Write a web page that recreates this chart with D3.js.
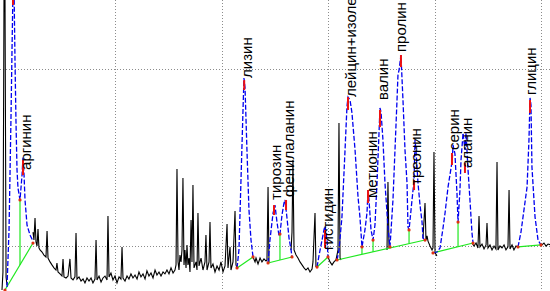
<!DOCTYPE html>
<html><head><meta charset="utf-8">
<script src="https://cdn.jsdelivr.net/npm/d3@7"></script>
<style>html,body{margin:0;padding:0;background:#fff;overflow:hidden} svg{display:block}</style>
</head><body>
<svg id="c" width="550" height="291"></svg>
<script>
// ---------- data (time in min, signal in mV) ----------
const gridTimes = [10, 20, 30, 40, 50];
const gridLevels = [0, 100];

// raw detector signal (black), pieces outside the integrated peaks
const signalInjection = [[-0.61,-25.2],[-0.52,-15.0],[-0.42,144.8],[-0.33,144.8],[-0.23,-17.8],[-0.14,-22.4]];
const signalEarly = [[2.30,7.6],[2.39,3.1],[2.49,15.6],[2.58,2.0],[2.68,-0.3],[2.77,9.3],[2.86,-1.4],[2.96,-2.5],[3.15,-3.7],[3.33,-5.4],[3.52,-6.5],[3.62,8.2],[3.71,-7.1],[3.90,-9.3],[4.08,-11.0],[4.27,-12.7],[4.46,-13.9],[4.55,-9.9],[4.65,-15.0],[4.84,-16.1],[5.02,-17.3],[5.12,-7.6],[5.21,-17.8],[5.40,-18.4],[5.59,-17.3],[5.77,-7.6],[5.87,-18.4],[6.06,-19.5],[6.24,-17.8],[6.34,7.1],[6.43,-19.0],[6.62,-17.8],[6.81,-20.1],[7.00,-19.0],[7.18,-21.2],[7.37,-18.4],[7.56,-20.1],[7.75,-18.4],[7.93,-21.2],[8.12,-19.0],[8.22,3.1],[8.31,-19.5],[8.50,-17.3],[8.69,-20.7],[8.87,-18.4],[9.06,-17.3],[9.25,-19.5],[9.34,16.7],[9.44,-17.8],[9.62,-15.6],[9.81,-19.5],[10.00,-17.3],[10.19,-21.2],[10.38,-17.8],[10.56,-19.0],[10.66,-0.8],[10.75,-18.4],[10.94,-20.1],[11.13,-17.3],[11.31,-19.0],[11.50,-16.1],[11.69,-18.4],[11.88,-16.7],[12.07,-19.0],[12.25,-15.0],[12.44,-17.8],[12.63,-16.1],[12.82,-19.0],[13.00,-14.4],[13.19,-17.3],[13.38,-15.6],[13.57,-18.4],[13.76,-13.9],[13.94,-16.7],[14.13,-15.0],[14.32,-17.3],[14.51,-15.0],[14.69,-16.1],[14.88,-13.9],[15.07,-16.1],[15.26,-12.7],[15.45,-15.6],[15.63,-13.9],[15.73,-11.0],[15.82,43.3],[15.92,-9.3],[16.01,-13.9],[16.10,-5.4],[16.20,-9.3],[16.29,-2.5],[16.38,38.2],[16.48,-11.0],[16.57,-2.5],[16.67,-12.7],[16.76,0.3],[16.85,-11.0],[16.95,-7.1],[17.04,-15.0],[17.14,14.4],[17.23,-9.3],[17.32,34.3],[17.42,-12.7],[17.61,-9.3],[17.70,-13.9],[17.79,18.4],[17.89,-11.6],[18.08,-7.1],[18.26,-13.9],[18.45,-9.3],[18.54,5.9],[18.64,-13.9],[18.83,-9.3],[18.92,13.3],[19.01,-12.7],[19.20,-10.5],[19.39,-15.0],[19.58,-11.6],[19.77,-13.9],[19.95,-9.3],[20.14,-15.0],[20.33,-11.6],[20.52,12.2],[20.61,-12.7],[20.80,-0.8],[20.89,-13.9],[21.08,-9.3],[21.27,19.5],[21.36,-11.0],[21.46,-12.7]];
const signalAfterLys = [[22.96,-6.5],[23.15,-9.3],[23.24,-7.1],[23.43,-10.5],[23.62,-7.1],[23.80,-9.3],[23.99,-7.6],[24.18,-8.8],[24.27,-8.2],[24.37,33.1],[24.46,-9.3]];
const signalAfterPhe = [[26.53,-2.5],[26.62,7.6],[26.71,48.4],[26.81,-2.5],[27.00,-5.4],[27.18,-7.1],[27.37,-9.3],[27.56,-11.0],[27.75,-12.7],[27.93,-13.9],[28.12,-12.7],[28.31,-15.0],[28.50,-13.3],[28.59,-9.3],[28.78,18.4],[28.87,-12.2]];
const signalAfterHis = [[30.00,-6.5],[30.19,-9.3],[30.38,-11.0],[30.56,-9.3],[30.75,-8.2],[30.94,-2.5],[31.03,69.4],[31.13,-7.1],[31.22,-8.2]];
const signalValPro = [[35.54,-2.5],[35.63,36.0],[35.73,-1.4]];
const signalAfterThr = [[38.92,4.2],[39.11,24.1],[39.20,3.1],[39.30,5.4],[39.39,2.5],[39.58,-0.3],[39.77,-2.5],[39.86,-1.4],[39.95,53.0],[40.05,-4.2],[40.23,-5.9]];
const signalAfterAla = [[43.52,1.4],[43.71,-0.3],[43.90,1.4],[44.08,-1.4],[44.18,16.7],[44.27,-0.8],[44.46,0.8],[44.65,-2.0],[44.84,0.3],[44.93,12.7],[45.02,-1.4],[45.21,0.3],[45.40,-2.5],[45.59,-0.3],[45.77,-2.0],[45.87,47.3],[45.96,-2.5],[46.15,-0.3],[46.34,-1.4],[46.53,0.3],[46.71,-2.5],[46.90,-0.8],[47.00,31.4],[47.09,-2.0],[47.28,0.3],[47.46,-2.5],[47.65,-0.3],[47.84,-0.8]];
const signalEnd = [[50.09,0.3],[50.28,1.4],[50.47,-0.3],[50.66,0.8],[50.94,0.3]];

// integrated peak traces (blue)
const peaksArg = [[-0.14,-23.5],[0.05,8.8],[0.23,71.1],[0.33,110.8],[0.42,144.8],[0.52,144.8],[0.61,105.1],[0.70,71.1],[0.80,42.8],[0.89,32.6],[1.08,25.8],[1.27,39.9],[1.36,50.1],[1.46,39.9],[1.55,25.8],[1.74,11.6],[2.02,5.9],[2.30,2.5]];
const peaksLys = [[21.46,-12.7],[21.64,-2.5],[21.83,37.1],[22.02,76.8],[22.11,94.9],[22.21,89.2],[22.39,54.1],[22.58,20.1],[22.77,3.1],[22.96,-6.5]];
const peaksTyrPhe = [[24.37,-9.9],[24.55,3.1],[24.84,18.4],[25.02,22.9],[25.21,13.3],[25.40,5.4],[25.49,6.5],[25.68,17.3],[25.87,24.1],[25.96,25.8],[26.15,15.6],[26.34,4.2],[26.53,-2.5],[26.62,-6.5]];
const peaksHis = [[28.97,-12.2],[29.15,-5.9],[29.44,3.1],[29.62,8.8],[29.72,11.0],[29.91,3.1],[30.00,-6.5]];
const peaksLeuThr = [[30.85,-8.2],[31.03,-2.5],[31.31,16.1],[31.60,54.1],[31.78,78.5],[31.88,84.1],[32.07,82.4],[32.25,75.1],[32.54,54.1],[32.82,27.5],[33.00,16.1],[33.19,-0.8],[33.47,8.8],[33.66,18.4],[33.76,31.4],[33.85,25.8],[34.04,8.8],[34.23,3.1],[34.41,11.6],[34.60,35.4],[34.79,63.7],[34.88,77.9],[34.98,75.6],[35.16,59.8],[35.35,35.4],[35.63,10.5],[35.82,-0.8],[36.10,25.8],[36.29,54.1],[36.48,82.4],[36.57,96.6],[36.67,99.4],[36.85,107.9],[37.04,82.4],[37.23,54.1],[37.42,35.4],[37.51,10.5],[37.61,8.8],[37.89,25.8],[38.08,37.1],[38.17,59.8],[38.26,54.1],[38.45,35.4],[38.64,22.9],[38.83,13.3],[38.92,4.2],[39.11,3.1]];
const peaksSerAla = [[39.86,-4.2],[40.23,-3.7],[40.52,-1.4],[40.80,9.9],[40.99,18.4],[41.27,33.1],[41.67,48.4],[41.74,56.9],[41.92,52.0],[42.11,29.7],[42.21,13.3],[42.39,31.4],[42.49,48.4],[42.68,63.7],[42.86,54.1],[42.96,63.7],[43.15,42.8],[43.33,25.8],[43.52,7.1],[43.62,1.4]];
const peaksGly = [[47.84,-0.8],[48.12,7.6],[48.31,16.1],[48.69,33.1],[48.87,59.8],[48.97,83.6],[49.06,79.6],[49.15,44.5],[49.44,16.1],[49.72,3.1],[50.00,0.3]];

// baselines and drop lines (green)
const baselines = [
  [[-0.33,-25.2],[2.30,1.4]], [[1.08,25.8],[1.08,-11.0]],
  [[21.46,-12.7],[22.96,-6.5]],
  [[24.37,-9.9],[26.62,-6.5]], [[25.49,6.5],[25.49,-8.2]],
  [[28.97,-12.2],[30.00,-6.5]],
  [[30.85,-8.2],[39.11,3.1]], [[33.19,-0.8],[33.19,-4.8]], [[34.23,3.1],[34.23,-3.7]], [[37.61,8.8],[37.61,1.1]],
  [[39.86,-4.2],[43.62,1.4]], [[42.21,13.3],[42.21,-0.8]],
  [[47.84,-0.8],[50.00,0.3]]
];

// detected maxima (red marks): time, upper, lower level
const apexTimes = [0.42, 1.36, 22.13, 24.93, 26.06, 29.72, 31.88, 33.76, 34.88, 36.85, 38.08, 41.64, 42.86, 48.97];
const apexTop =   [139.1, 48.4, 93.7, 22.9, 25.8, 8.8, 84.1, 31.4, 76.8, 107.9, 37.1, 52.4, 46.7, 82.4];
const apexBottom= [136.3, 39.9, 88.1, 17.3, 20.1, -1.4, 76.8, 24.1, 67.1, 101.1, 31.4, 45.6, 41.1, 75.1];

// peak borders (red dots)
const borderTimes = [-0.33, 1.08, 2.30, 21.46, 22.96, 24.37, 25.49, 26.62, 28.97, 30.00, 30.85, 33.19, 34.23, 35.82, 37.61, 39.11, 39.86, 42.21, 43.62, 47.84, 50.00];
const borderLevels = [-25.2, 25.8, 1.4, -12.7, -6.5, -9.9, 6.5, -6.5, -12.2, -6.5, -8.2, -0.8, 3.1, -0.8, 8.8, 3.1, -4.2, 13.3, 1.4, -0.8, 0.3];

// peak names
const peakNames = ["аргинин","лизин","тирозин","фенилаланин","гистидин","лейцин+изолейцин","метионин","валин","пролин","треонин","серин","аланин","глицин"];
const labelTimes = [1.36, 22.11, 24.84, 26.06, 29.72, 31.88, 33.85, 34.88, 36.57, 38.00, 41.55, 42.77, 48.78];
const labelLevels = [42.8, 94.9, 25.8, 27.5, -2.5, 84.1, 26.9, 82.4, 109.6, 34.3, 54.1, 43.9, 85.3];

// ---------- drawing ----------
const W = 550, H = 291;
const svg = d3.select("#c");
const x = d3.scaleLinear().domain([0, 50]).range([8.5, 541]);
const y = d3.scaleLinear().domain([0, 100]).range([245.5, 69]);

const grid = svg.append("g");
grid.selectAll("line.v").data(gridTimes).join("line")
  .attr("x1", d => Math.round(x(d)) + 0.5).attr("x2", d => Math.round(x(d)) + 0.5)
  .attr("y1", 0).attr("y2", H)
  .attr("stroke", "#8c8c8c").attr("stroke-dasharray", "1,2");
grid.selectAll("line.h").data(gridLevels).join("line")
  .attr("y1", d => Math.round(y(d)) + 0.5).attr("y2", d => Math.round(y(d)) + 0.5)
  .attr("x1", 0).attr("x2", W)
  .attr("stroke", "#8c8c8c").attr("stroke-dasharray", "1,2");

const line = d3.line().x(d => x(d[0])).y(d => y(d[1]));

const signals = [signalInjection, signalEarly, signalAfterLys, signalAfterPhe, signalAfterHis, signalValPro, signalAfterThr, signalAfterAla, signalEnd];
svg.append("g").selectAll("path").data(signals).join("path")
  .attr("d", line).attr("fill", "none").attr("stroke", "#000").attr("stroke-width", 1.1);

svg.append("g").selectAll("path").data(baselines).join("path")
  .attr("d", line).attr("fill", "none").attr("stroke", "#1fe81f").attr("stroke-width", 1.2);

const peaks = [peaksArg, peaksLys, peaksTyrPhe, peaksHis, peaksLeuThr, peaksSerAla, peaksGly];
svg.append("g").selectAll("path").data(peaks).join("path")
  .attr("d", line).attr("fill", "none").attr("stroke", "#0000f0").attr("stroke-width", 1.3)
  .attr("stroke-dasharray", "5,2");

svg.append("g").selectAll("line").data(apexTimes).join("line")
  .attr("x1", d => x(d)).attr("x2", d => x(d))
  .attr("y1", (d, i) => y(apexTop[i])).attr("y2", (d, i) => y(apexBottom[i]))
  .attr("stroke", "#ee1111").attr("stroke-width", 2);

svg.append("g").selectAll("circle").data(borderTimes).join("circle")
  .attr("cx", d => x(d)).attr("cy", (d, i) => y(borderLevels[i])).attr("r", 1.6)
  .attr("fill", "#e03010");

svg.append("g").selectAll("text").data(peakNames).join("text")
  .attr("transform", (d, i) => `translate(${x(labelTimes[i]) + 8},${y(labelLevels[i])}) rotate(-90)`)
  .attr("font-family", "Liberation Sans, Arial, sans-serif").attr("font-size", 15)
  .attr("fill", "#000").text(d => d);
</script>
</body></html>
